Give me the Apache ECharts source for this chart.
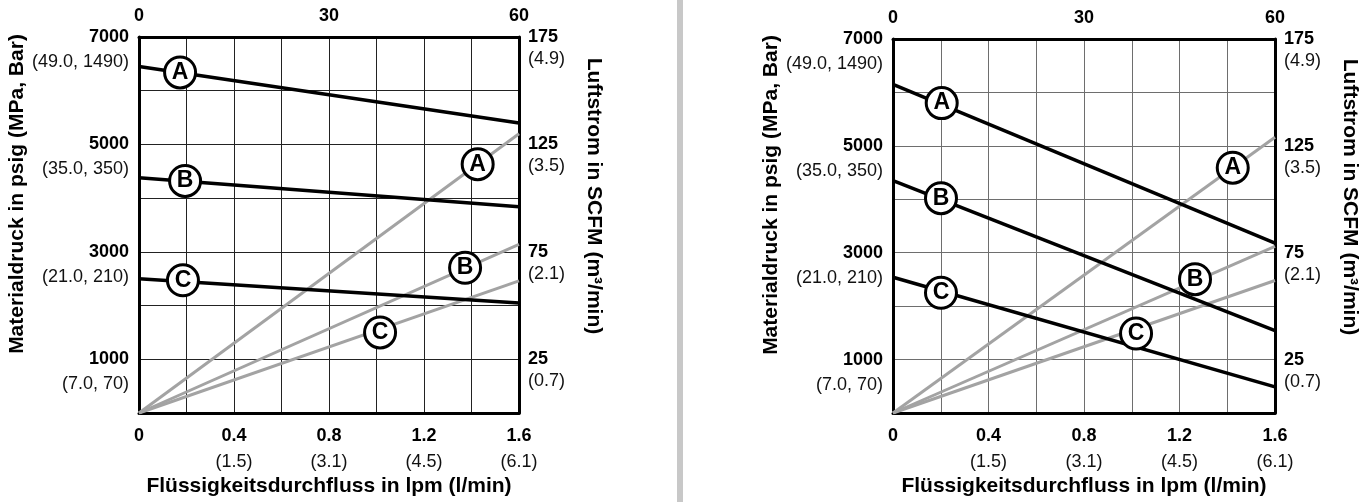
<!DOCTYPE html>
<html>
<head>
<meta charset="utf-8">
<title>Materialdruck und Luftstrom</title>
<script src="https://cdn.jsdelivr.net/npm/echarts@6/dist/echarts.min.js"></script>
<style>
  html, body { margin: 0; padding: 0; background: #fff; }
  #chart { width: 1362px; height: 502px; }
</style>
</head>
<body>
<div id="chart"></div>
<script>
// Achsenteilung und Beschriftungen
const flowTicks = [0, 0.4, 0.8, 1.2, 1.6]
const flowMetric = ['', '(1.5)', '(3.1)', '(4.5)', '(6.1)']
const psiTicks = [1000, 3000, 5000, 7000]
const psiMetric = ['(7.0, 70)', '(21.0, 210)', '(35.0, 350)', '(49.0, 1490)']
const scfmTicks = [25, 75, 125, 175]
const scfmMetric = ['(0.7)', '(2.1)', '(3.5)', '(4.9)']

// Durchfluss an Anfang und Ende der Kurven (lpm)
const flowEnds = [0, 1.6]

// linkes Diagramm: Materialdruck (psig) und Luftstrom (SCFM)
const leftPsiA = [6450, 5400]
const leftPsiB = [4380, 3840]
const leftPsiC = [2500, 2050]
const leftAirA = [0, 130]
const leftAirB = [0, 78.5]
const leftAirC = [0, 61.5]

// rechtes Diagramm
const rightPsiA = [6150, 3180]
const rightPsiB = [4350, 1540]
const rightPsiC = [2540, 490]
const rightAirA = [0, 129]
const rightAirB = [0, 78]
const rightAirC = [0, 62]

// Kreis-Markierungen [lpm, Wert, Buchstabe]
const leftPsiMarks = [[0.173, 6340, 'A'], [0.194, 4320, 'B'], [0.185, 2470, 'C']]
const leftAirMarks = [[1.426, 115.8, 'A'], [1.373, 67.6, 'B'], [1.015, 37.5, 'C']]
const rightPsiMarks = [[0.204, 5800, 'A'], [0.201, 4020, 'B'], [0.201, 2250, 'C']]
const rightAirMarks = [[1.423, 114.8, 'A'], [1.265, 62.6, 'B'], [1.018, 37.2, 'C']]

const font = "'Liberation Sans', Arial, Helvetica, sans-serif"

const findTick = (ticks, v) => ticks.findIndex(t => Math.abs(t - v) < 1e-6)

const flowLabel = v => {
  const i = findTick(flowTicks, v)
  if (i < 0) return ''
  if (i === 0) return '{a|0}'
  return `{a|${flowTicks[i]}}\n{b|${flowMetric[i]}}`
}
const psiLabel = v => {
  const i = findTick(psiTicks, v)
  return i < 0 ? '' : `{e| }\n{a|${psiTicks[i]}}\n{b|${psiMetric[i]}}`
}
const scfmLabel = v => {
  const i = findTick(scfmTicks, v)
  return i < 0 ? '' : `{e| }\n{a|${scfmTicks[i]}}\n{b|${scfmMetric[i]}}`
}

const richText = lh => ({
  a: { fontSize: 18, fontWeight: 'bold', color: '#000', lineHeight: lh, fontFamily: font },
  b: { fontSize: 18, color: '#111', lineHeight: lh, fontFamily: font },
  e: { fontSize: 18, lineHeight: lh, fontFamily: font }
})

const axisLine = { show: true, onZero: false, lineStyle: { color: '#000', width: 3 } }
const nameStyle = { fontSize: 21, fontWeight: 'bold', color: '#000', fontFamily: font }

const makePanel = (idx, gridColor, psi, air, psiMarks, airMarks) => {
  const xBase = idx * 2
  const yBase = idx * 2
  const xAxis = [
    {
      gridIndex: idx, type: 'value', position: 'bottom', min: 0, max: 1.6, interval: 0.2,
      name: 'Flüssigkeitsdurchfluss in lpm (l/min)', nameLocation: 'middle', nameGap: 63,
      nameTextStyle: nameStyle,
      axisLine, axisTick: { show: false },
      axisLabel: { margin: 10, formatter: flowLabel, rich: richText(26), showMinLabel: true, showMaxLabel: true },
      splitLine: { show: true, lineStyle: { color: gridColor, width: 1 } }
    },
    {
      gridIndex: idx, type: 'value', position: 'top', min: 0, max: 60, interval: 30,
      axisLine, axisTick: { show: false }, splitLine: { show: false },
      axisLabel: { margin: 12, fontSize: 18, fontWeight: 'bold', color: '#000', fontFamily: font }
    }
  ]
  const yAxis = [
    {
      gridIndex: idx, type: 'value', position: 'left', min: 0, max: 7000, interval: 1000,
      name: 'Materialdruck in psig (MPa, Bar)', nameLocation: 'middle', nameGap: 107,
      nameTextStyle: { ...nameStyle, padding: [0, 0, 0, 62] },
      axisLine, axisTick: { show: false },
      axisLabel: { margin: 10, formatter: psiLabel, rich: richText(25), showMinLabel: true, showMaxLabel: true },
      splitLine: { show: true, lineStyle: { color: gridColor, width: 1 } }
    },
    {
      gridIndex: idx, type: 'value', position: 'right', min: 0, max: 175, interval: 25,
      name: 'Luftstrom in SCFM (m³/min)', nameLocation: 'middle', nameGap: 64, nameRotate: -90,
      nameTextStyle: { ...nameStyle, padding: [0, 58, 0, 0] },
      axisLine, axisTick: { show: false }, splitLine: { show: false },
      axisLabel: { margin: 9, formatter: scfmLabel, rich: richText(22), showMinLabel: true, showMaxLabel: true }
    }
  ]
  const toPts = vals => flowEnds.map((x, i) => [x, vals[i]])
  const line = (name, vals, yIdx, color, width) => ({
    name, type: 'line', xAxisIndex: xBase, yAxisIndex: yBase + yIdx,
    data: toPts(vals), showSymbol: false, silent: true,
    lineStyle: { color, width }
  })
  const marks = (data, yIdx) => ({
    type: 'scatter', xAxisIndex: xBase, yAxisIndex: yBase + yIdx, data, silent: true,
    symbol: 'circle', symbolSize: 31, z: 5,
    itemStyle: { color: '#fff', borderColor: '#000', borderWidth: 3, opacity: 1 },
    label: {
      show: true, position: 'inside', formatter: p => p.data[2],
      fontSize: 23, fontWeight: 'bold', color: '#000', fontFamily: font
    }
  })
  const series = [
    line('Luft A', air[0], 1, '#a3a3a3', 3),
    line('Luft B', air[1], 1, '#a3a3a3', 3),
    line('Luft C', air[2], 1, '#a3a3a3', 3),
    line('Druck A', psi[0], 0, '#000', 3.5),
    line('Druck B', psi[1], 0, '#000', 3.5),
    line('Druck C', psi[2], 0, '#000', 3.5),
    marks(airMarks, 1),
    marks(psiMarks, 0)
  ]
  return { xAxis, yAxis, series }
}

const left = makePanel(0, '#222', [leftPsiA, leftPsiB, leftPsiC], [leftAirA, leftAirB, leftAirC], leftPsiMarks, leftAirMarks)
const right = makePanel(1, '#6e6e6e', [rightPsiA, rightPsiB, rightPsiC], [rightAirA, rightAirB, rightAirC], rightPsiMarks, rightAirMarks)

const chartInstance = echarts.init(document.getElementById('chart'), null, { renderer: 'canvas' })

const option = {
  animation: false,
  textStyle: { fontFamily: font },
  grid: [
    { left: 139, top: 37, width: 380, height: 379 },
    { left: 893, top: 39, width: 382, height: 381 }
  ],
  xAxis: [...left.xAxis, ...right.xAxis],
  yAxis: [...left.yAxis, ...right.yAxis],
  series: [...left.series, ...right.series],
  graphic: [
    { type: 'rect', left: 677, top: 0, shape: { width: 6, height: 502 }, style: { fill: '#c8c8c8' }, silent: true }
  ]
}

chartInstance.setOption(option)
window.addEventListener('resize', () => chartInstance.resize())
</script>
</body>
</html>
